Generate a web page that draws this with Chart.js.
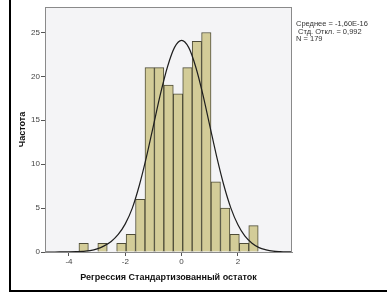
<!DOCTYPE html>
<html lang="ru">
<head>
  <meta charset="UTF-8" />
  <title>Гистограмма остатков</title>
  <script src="https://cdn.jsdelivr.net/npm/chart.js"></script>
  <style>
    body { margin: 0; background: #fff; }
    #wrap { position: relative; width: 387px; height: 296px; overflow: hidden; }
    #frameLeft { position: absolute; left: 9px; top: 0; width: 2px; height: 292px; background: #000; }
    #frameBottom { position: absolute; left: 9px; top: 290px; right: 0; height: 2px; background: #000; }
    #stats {
      position: absolute; left: 296px; top: 20px;
      font: 7.5px "Liberation Sans", Arial, sans-serif; line-height: 7.5px; color: #333;
      white-space: pre;
    }
  </style>
</head>
<body>
  <div id="wrap">
    <canvas id="chart" width="387" height="296"></canvas>
    <div id="frameLeft"></div>
    <div id="frameBottom"></div>
    <div id="stats">Среднее = -1,60E-16
 Стд. Откл. = 0,992
N = 179</div>
  </div>

  <script>
    // histogram bins (centers) and counts
    const binCenters = [-3.4775, -2.8075, -2.1375, -1.8025, -1.4675, -1.1325, -0.7975, -0.4625,
                        -0.1275, 0.2075, 0.5425, 0.8775, 1.2125, 1.5475, 1.8825, 2.2175, 2.5525];
    const binCounts = [1, 1, 1, 2, 6, 21, 21, 19, 18, 21, 24, 25, 8, 5, 2, 1, 3];

    // normal curve, points
    const curveX = [-4.85, -4.5, -4.25, -4, -3.75, -3.5, -3.25, -3, -2.75, -2.5, -2.25, -2, -1.75, -1.5,
                    -1.25, -1, -0.75, -0.5, -0.25, 0, 0.25, 0.5, 0.75, 1, 1.25, 1.5, 1.75, 2, 2.25,
                    2.5, 2.75, 3, 3.25, 3.5, 3.75, 3.92];
    const curveY = [0, 0, 0.01, 0.02, 0.04, 0.07, 0.15, 0.35, 0.7, 1.2, 2.0, 3.2, 5.0, 7.6,
                    10.8, 14.4, 18.0, 21.1, 23.3, 24.1, 23.3, 21.1, 18.0, 14.4, 10.8, 7.6, 5.0, 3.1, 1.8,
                    1.0, 0.5, 0.25, 0.1, 0.04, 0.01, 0];

    const xTicks = [-4, -2, 0, 2];
    const yTicks = [0, 5, 10, 15, 20, 25];

    const fontFamily = '"Liberation Sans", Arial, sans-serif';

    const plotBg = {
      id: 'plotBg',
      beforeDraw(chart) {
        const { ctx, chartArea: a } = chart;
        ctx.save();
        ctx.fillStyle = '#f4f4f6';
        ctx.fillRect(a.left, a.top, a.right - a.left, a.bottom - a.top);
        ctx.restore();
      },
      afterDraw(chart) {
        const { ctx, chartArea: a } = chart;
        ctx.save();
        ctx.strokeStyle = '#8a8a8a';
        ctx.lineWidth = 1;
        ctx.strokeRect(a.left + 0.5, a.top + 0.5, a.right - a.left - 1, a.bottom - a.top);
        ctx.restore();
      }
    };

    new Chart(document.getElementById('chart'), {
      data: {
        datasets: [
          {
            type: 'line',
            data: curveX.map((x, i) => ({ x, y: curveY[i] })),
            borderColor: '#1e1e1e',
            borderWidth: 1.2,
            pointRadius: 0,
            fill: false,
            cubicInterpolationMode: 'monotone',
            order: 0
          },
          {
            type: 'bar',
            data: binCenters.map((x, i) => ({ x, y: binCounts[i] })),
            backgroundColor: '#d3cc98',
            borderColor: '#4e4c38',
            borderWidth: 1,
            barPercentage: 1,
            categoryPercentage: 1,
            order: 1
          }
        ]
      },
      options: {
        responsive: false,
        animation: false,
        layout: { padding: { left: 0, top: 7, right: 95, bottom: 0 } },
        plugins: { legend: { display: false }, tooltip: { enabled: false } },
        scales: {
          x: {
            type: 'linear',
            offset: false,
            min: -4.85,
            max: 3.92,
            afterBuildTicks: s => { s.ticks = xTicks.map(v => ({ value: v })); },
            afterFit: s => { s.height = 44; },
            grid: { offset: false, drawOnChartArea: false, drawTicks: true, tickLength: 4, color: '#555' },
            border: { display: true, color: '#8a8a8a' },
            ticks: { padding: 1, color: '#444', font: { family: fontFamily, size: 8 } },
            title: {
              display: true,
              text: 'Регрессия Стандартизованный остаток',
              color: '#111',
              font: { family: fontFamily, size: 9, weight: 'bold' },
              padding: { top: 0, bottom: 13 }
            }
          },
          y: {
            min: 0,
            max: 27.9,
            afterBuildTicks: s => { s.ticks = yTicks.map(v => ({ value: v })); },
            afterFit: s => { s.width = 45; },
            grid: { drawOnChartArea: false, drawTicks: true, tickLength: 4, color: '#555' },
            border: { display: true, color: '#8a8a8a' },
            ticks: { padding: 1, color: '#444', font: { family: fontFamily, size: 8 } },
            title: {
              display: true,
              text: 'Частота',
              color: '#111',
              font: { family: fontFamily, size: 9, weight: 'bold' },
              padding: { top: 17, bottom: 0 }
            }
          }
        }
      },
      plugins: [plotBg]
    });
  </script>
</body>
</html>
